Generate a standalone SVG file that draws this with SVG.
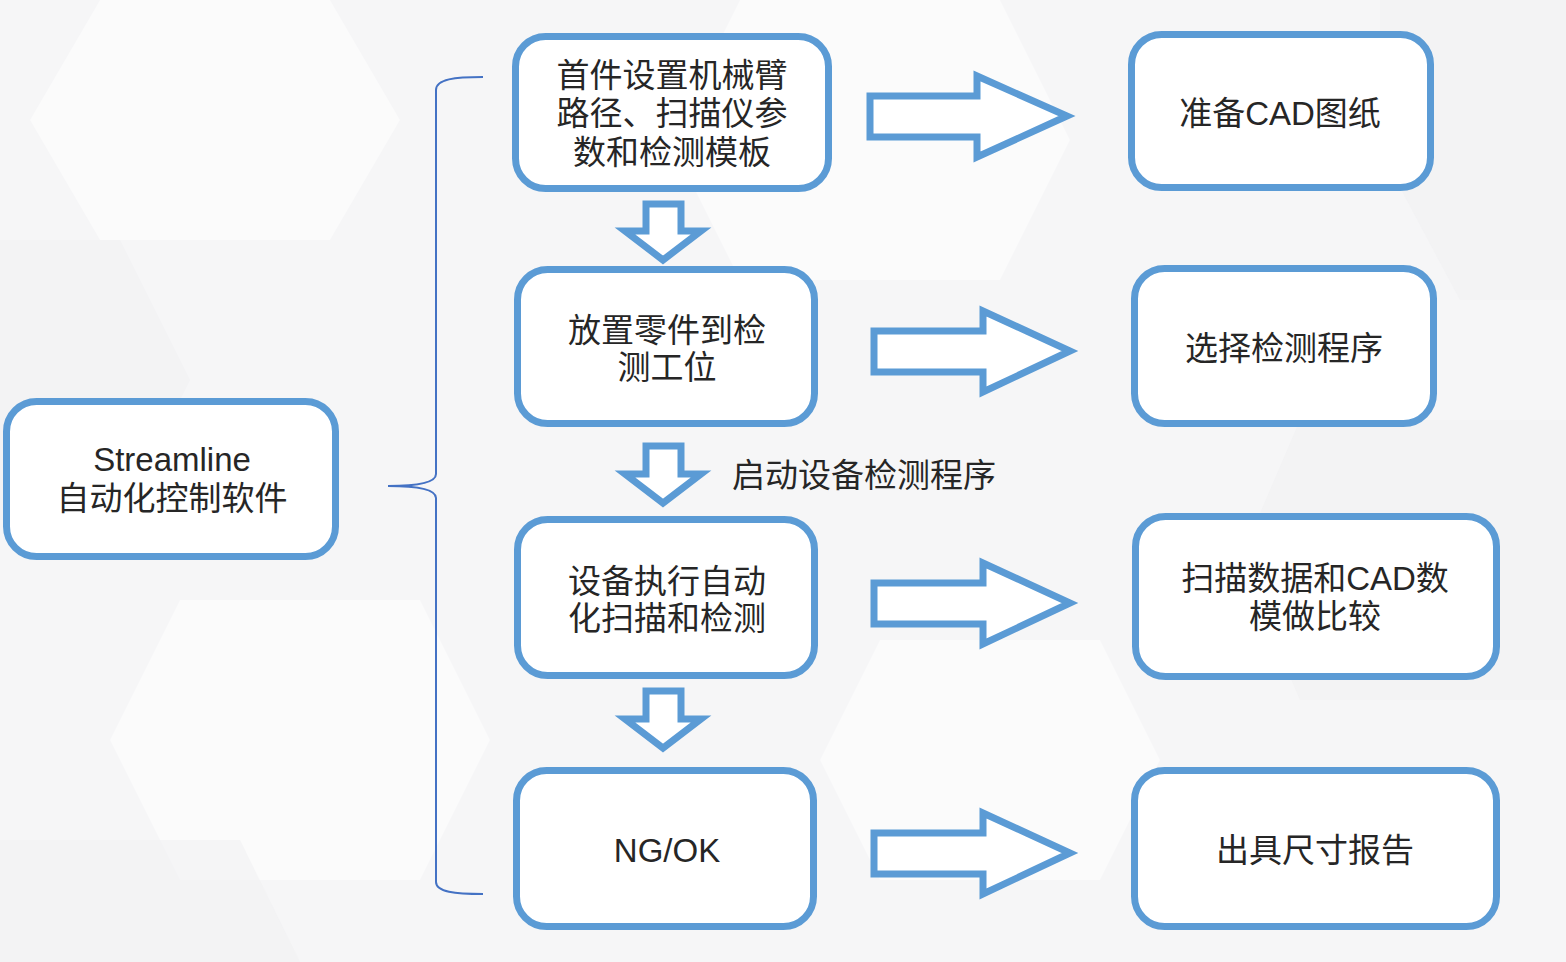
<svg xmlns="http://www.w3.org/2000/svg" width="1566" height="962" viewBox="0 0 1566 962">
<style>
.node{fill:#ffffff;stroke:#5B9BD5;stroke-width:7}
.arr{fill:#ffffff;stroke:#5B9BD5;stroke-width:7;stroke-linejoin:miter}
.t{font-family:"Liberation Sans","Noto Sans CJK SC",sans-serif;font-size:33px;fill:#262626;text-anchor:middle}
.lbl{font-family:"Liberation Sans","Noto Sans CJK SC",sans-serif;font-size:33px;fill:#262626;text-anchor:start}
.bg2{fill:#ffffff;opacity:0.5}
.bg3{fill:#efeff1;opacity:0.5}
</style>
<rect x="0" y="0" width="1566" height="962" fill="#f6f6f7"/>
<g id="background">
<polygon class="bg2" points="100,0 330,0 400,120 330,240 100,240 30,120"/>
<polygon class="bg3" points="0,240 120,240 190,380 120,520 0,520"/>
<polygon class="bg2" points="740,0 1000,0 1070,140 1000,280 740,280 670,140"/>
<polygon class="bg3" points="1380,0 1566,0 1566,300 1460,300 1380,150"/>
<polygon class="bg2" points="180,600 420,600 490,740 420,880 180,880 110,740"/>
<polygon class="bg3" points="0,840 240,840 300,962 0,962"/>
<polygon class="bg2" points="880,640 1100,640 1160,760 1100,880 880,880 820,760"/>
<polygon class="bg3" points="1300,420 1566,420 1566,700 1300,700 1240,560"/>
</g>
<g id="connectors">
<path d="M483,77 C455,77 436,79 436,90 L436,474 C436,482 420,486 388,486 C420,486 436,490 436,498 L436,882 C436,892 455,894 483,894" fill="none" stroke="#4472C4" stroke-width="2"/>
<polygon class="arr" points="870,96 977,96 977,76 1067,116 977,157 977,137 870,137"/>
<polygon class="arr" points="874,331 983,331 983,311 1070,351 983,392 983,372 874,372"/>
<polygon class="arr" points="874,583 983,583 983,563 1070,603 983,644 983,624 874,624"/>
<polygon class="arr" points="874,833 983,833 983,813 1070,853 983,894 983,874 874,874"/>
<polygon class="arr" points="646,204 681,204 681,231 701,231 663,260 625,231 646,231"/>
<polygon class="arr" points="646,446 681,446 681,474 701,474 663,503 625,474 646,474"/>
<polygon class="arr" points="646,691 681,691 681,719 701,719 663,748 625,719 646,719"/>
<text class="lbl" x="732" y="487">启动设备检测程序</text>
</g>
<g id="node-streamline">
<rect class="node" x="6.5" y="401.5" width="329" height="155" rx="30"/>
<text class="t" x="172" y="471">Streamline</text>
<text class="t" x="172" y="510">自动化控制软件</text>
</g>
<g id="node-first">
<rect class="node" x="515.5" y="36.5" width="313" height="152" rx="30"/>
<text class="t" x="672" y="87">首件设置机械臂</text>
<text class="t" x="672" y="125">路径、扫描仪参</text>
<text class="t" x="672" y="164">数和检测模板</text>
</g>
<g id="node-place">
<rect class="node" x="517.5" y="269.5" width="297" height="154" rx="30"/>
<text class="t" x="667" y="342">放置零件到检</text>
<text class="t" x="667" y="379">测工位</text>
</g>
<g id="node-exec">
<rect class="node" x="517.5" y="519.5" width="297" height="156" rx="30"/>
<text class="t" x="667" y="593">设备执行自动</text>
<text class="t" x="667" y="630">化扫描和检测</text>
</g>
<g id="node-ngok">
<rect class="node" x="516.5" y="770.5" width="297" height="156" rx="30"/>
<text class="t" x="667" y="862">NG/OK</text>
</g>
<g id="node-cad">
<rect class="node" x="1131.5" y="34.5" width="299" height="153" rx="30"/>
<text class="t" x="1280" y="125">准备CAD图纸</text>
</g>
<g id="node-select">
<rect class="node" x="1134.5" y="268.5" width="299" height="155" rx="30"/>
<text class="t" x="1284" y="360">选择检测程序</text>
</g>
<g id="node-compare">
<rect class="node" x="1135.5" y="516.5" width="361" height="160" rx="30"/>
<text class="t" x="1315" y="590">扫描数据和CAD数</text>
<text class="t" x="1315" y="628">模做比较</text>
</g>
<g id="node-report">
<rect class="node" x="1134.5" y="770.5" width="362" height="156" rx="30"/>
<text class="t" x="1315" y="862">出具尺寸报告</text>
</g>
</svg>
